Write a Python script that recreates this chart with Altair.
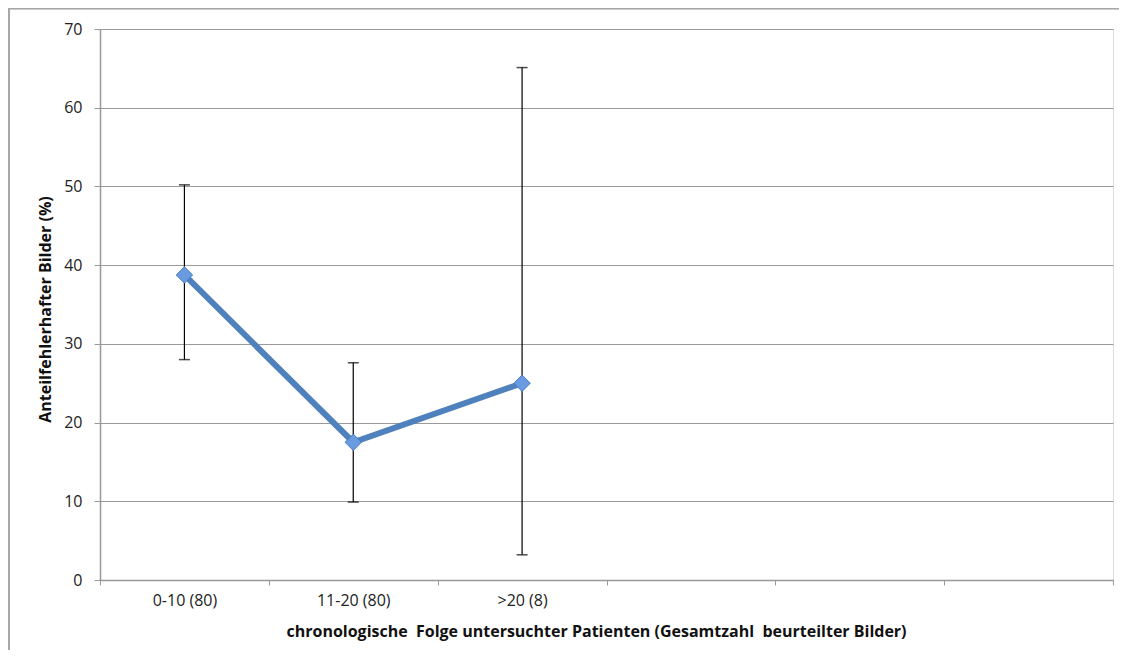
import altair as alt
import pandas as pd

categories = ["0-10 (80)", "11-20 (80)", ">20 (8)"]
empty_slots = [" ", "  ", "   "]
share = [38.75, 17.5, 25.0]
ci_low = [28.0, 9.9, 3.2]
ci_high = [50.2, 27.6, 65.1]

df = pd.DataFrame({"cat": categories, "share": share, "lo": ci_low, "hi": ci_high})

FONT = "Open Sans"
domain = categories + empty_slots
NB = "\u00a0"

x_enc = alt.X(
    "cat:N",
    scale=alt.Scale(domain=domain, paddingInner=0, paddingOuter=0),
    sort=domain,
    axis=alt.Axis(
        title=f"chronologische{NB} Folge untersuchter Patienten (Gesamtzahl{NB} beurteilter Bilder)",
        labelAngle=0,
        labelFont=FONT,
        labelFontSize=16,
        labelColor="#222222",
        labelPadding=7,
        titleFont=FONT,
        titleFontSize=16,
        titleFontWeight="bold",
        titleColor="#111111",
        titlePadding=15,
        titleX=496,
        tickBand="extent",
        tickSize=5,
        tickColor="#999999",
        domainColor="#999999",
        domainWidth=1.5,
        grid=False,
    ),
)

y_scale = alt.Scale(domain=[0, 70], nice=False)
y_axis = alt.Axis(
    title="Anteilfehlerhafter Bilder (%)",
    values=[0, 10, 20, 30, 40, 50, 60, 70],
    labelFont=FONT,
    labelFontSize=16,
    labelColor="#222222",
    labelPadding=12,
    titleFont=FONT,
    titleFontSize=16,
    titleFontWeight="bold",
    titleColor="#111111",
    titleX=-55,
    titleY=280,
    titleAngle=270,
    titleAlign="center",
    titleBaseline="middle",
    tickSize=6,
    tickColor="#999999",
    domainColor="#999999",
    domainWidth=1.5,
    gridColor="#9a9a9a",
    gridWidth=1.2,
)

base = alt.Chart(df)

err = base.mark_rule(color="#000000", strokeWidth=1.2).encode(
    x=x_enc,
    y=alt.Y("lo:Q", scale=y_scale, axis=y_axis),
    y2="hi:Q",
)
cap_lo = base.mark_tick(color="#000000", thickness=1.5, size=11).encode(
    x=alt.X("cat:N", sort=domain), y=alt.Y("lo:Q")
)
cap_hi = base.mark_tick(color="#000000", thickness=1.5, size=11).encode(
    x=alt.X("cat:N", sort=domain), y=alt.Y("hi:Q")
)
line = base.mark_line(color="#4f81bd", strokeWidth=6).encode(
    x=alt.X("cat:N", sort=domain), y=alt.Y("share:Q")
)
pts = base.mark_point(
    shape="diamond", filled=True, fill="#6a9be0", stroke="#4a7cc0", strokeWidth=1, size=270, opacity=1
).encode(x=alt.X("cat:N", sort=domain), y=alt.Y("share:Q"))

frame_top = alt.Chart(df).mark_rule(color="#a6a6a6", strokeWidth=1.5).encode(
    x=alt.value(-91), x2=alt.value(1025), y=alt.value(-20.5)
)
frame_left = alt.Chart(df).mark_rule(color="#a6a6a6", strokeWidth=1.5).encode(
    x=alt.value(-91), y=alt.value(-21), y2=alt.value(640)
)

chart = (
    alt.layer(frame_top, frame_left, err, cap_lo, cap_hi, line, pts)
    .properties(
        width=1013,
        height=551,
        autosize=alt.AutoSizeParams(type="none"),
        padding={"left": 92, "top": 21, "right": 6, "bottom": 70},
    )
    .configure_view(stroke=None)
    .configure(background="#ffffff")
)

chart.save("out.html", embed_options={"renderer": "svg", "actions": False})
